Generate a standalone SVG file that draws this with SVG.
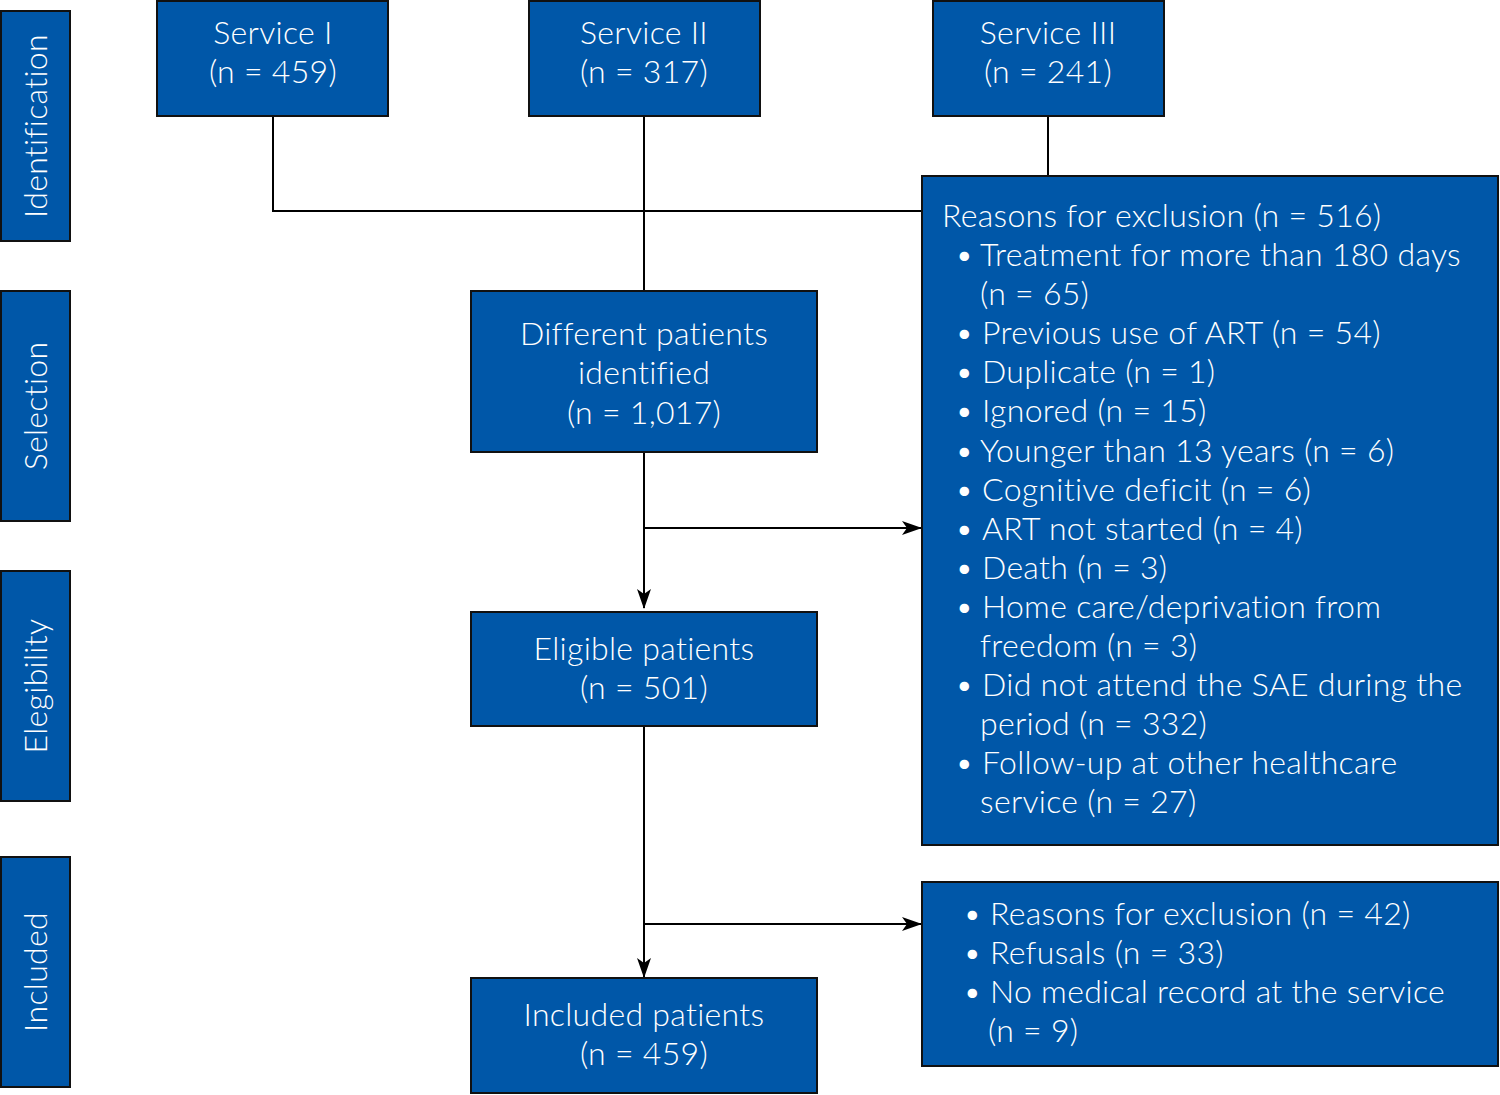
<svg xmlns="http://www.w3.org/2000/svg" width="1500" height="1095" viewBox="0 0 1500 1095">
<defs>
<style>
.box{fill:#0057A8;stroke:#111;stroke-width:2}
.t{font-family:Lato,"Open Sans",sans-serif;font-size:32px;letter-spacing:0.3px;fill:#fff;font-weight:300}
.c{text-anchor:middle}
.ln{stroke:#000;stroke-width:2;fill:none}
</style>
<marker id="ar" viewBox="0 0 20 14" refX="19" refY="7" markerWidth="20" markerHeight="14" markerUnits="userSpaceOnUse" orient="auto">
<path d="M0,0 L20,7 L0,14 L5,7 Z" fill="#000"/>
</marker>
</defs>
<rect width="1500" height="1095" fill="#fff"/>
<g id="phase-identification"><rect class="box" x="1" y="11" width="69" height="230"/><text class="t c" transform="translate(47,126) rotate(-90)">Identification</text></g>
<g id="phase-selection"><rect class="box" x="1" y="291" width="69" height="230"/><text class="t c" transform="translate(47,406) rotate(-90)">Selection</text></g>
<g id="phase-elegibility"><rect class="box" x="1" y="571" width="69" height="230"/><text class="t c" transform="translate(47,686) rotate(-90)">Elegibility</text></g>
<g id="phase-included"><rect class="box" x="1" y="857" width="69" height="230"/><text class="t c" transform="translate(47,972) rotate(-90)">Included</text></g>

<g id="connectors">
<polyline class="ln" points="273,116 273,211 922,211"/>
<line class="ln" x1="644" y1="116" x2="644" y2="291"/>
<line class="ln" x1="1048" y1="116" x2="1048" y2="176"/>
<line class="ln" x1="644" y1="452" x2="644" y2="608" marker-end="url(#ar)"/>
<line class="ln" x1="644" y1="528" x2="921" y2="528" marker-end="url(#ar)"/>
<line class="ln" x1="644" y1="726" x2="644" y2="977" marker-end="url(#ar)"/>
<line class="ln" x1="644" y1="924" x2="921" y2="924" marker-end="url(#ar)"/>
</g>

<g id="service-1"><rect class="box" x="157" y="1" width="231" height="115"/><text class="t c" x="273" y="44">Service I</text><text class="t c" x="273" y="83">(n = 459)</text></g>
<g id="service-2"><rect class="box" x="529" y="1" width="231" height="115"/><text class="t c" x="644" y="44">Service II</text><text class="t c" x="644" y="83">(n = 317)</text></g>
<g id="service-3"><rect class="box" x="933" y="1" width="231" height="115"/><text class="t c" x="1048" y="44">Service III</text><text class="t c" x="1048" y="83">(n = 241)</text></g>

<g id="different"><rect class="box" x="471" y="291" width="346" height="161"/><text class="t c" x="644" y="345">Different patients</text><text class="t c" x="644" y="384">identified</text><text class="t c" x="644" y="424">(n = 1,017)</text></g>
<g id="eligible"><rect class="box" x="471" y="612" width="346" height="114"/><text class="t c" x="644" y="660">Eligible patients</text><text class="t c" x="644" y="699">(n = 501)</text></g>
<g id="included"><rect class="box" x="471" y="978" width="346" height="115"/><text class="t c" x="644" y="1026">Included patients</text><text class="t c" x="644" y="1065">(n = 459)</text></g>

<g id="exclusion-1"><rect class="box" x="922" y="176" width="576" height="669"/>
<text class="t" x="942" y="227">Reasons for exclusion (n = 516)</text>
<text class="t" x="955" y="266">•</text><text class="t" x="980" y="266">Treatment for more than 180 days</text>
<text class="t" x="980" y="305">(n = 65)</text>
<text class="t" x="955" y="344">•</text><text class="t" x="982" y="344">Previous use of ART (n = 54)</text>
<text class="t" x="955" y="383">•</text><text class="t" x="982" y="383">Duplicate (n = 1)</text>
<text class="t" x="955" y="422">•</text><text class="t" x="982" y="422">Ignored (n = 15)</text>
<text class="t" x="955" y="462">•</text><text class="t" x="980" y="462">Younger than 13 years (n = 6)</text>
<text class="t" x="955" y="501">•</text><text class="t" x="982" y="501">Cognitive deficit (n = 6)</text>
<text class="t" x="955" y="540">•</text><text class="t" x="982" y="540">ART not started (n = 4)</text>
<text class="t" x="955" y="579">•</text><text class="t" x="982" y="579">Death (n = 3)</text>
<text class="t" x="955" y="618">•</text><text class="t" x="982" y="618">Home care/deprivation from</text>
<text class="t" x="980" y="657">freedom (n = 3)</text>
<text class="t" x="955" y="696">•</text><text class="t" x="982" y="696">Did not attend the SAE during the</text>
<text class="t" x="980" y="735">period (n = 332)</text>
<text class="t" x="955" y="774">•</text><text class="t" x="982" y="774">Follow-up at other healthcare</text>
<text class="t" x="980" y="813">service (n = 27)</text>
</g>
<g id="exclusion-2"><rect class="box" x="922" y="882" width="576" height="184"/>
<text class="t" x="963" y="925">•</text><text class="t" x="990" y="925">Reasons for exclusion (n = 42)</text>
<text class="t" x="963" y="964">•</text><text class="t" x="990" y="964">Refusals (n = 33)</text>
<text class="t" x="963" y="1003">•</text><text class="t" x="990" y="1003">No medical record at the service</text>
<text class="t" x="988" y="1042">(n = 9)</text>
</g>
</svg>
